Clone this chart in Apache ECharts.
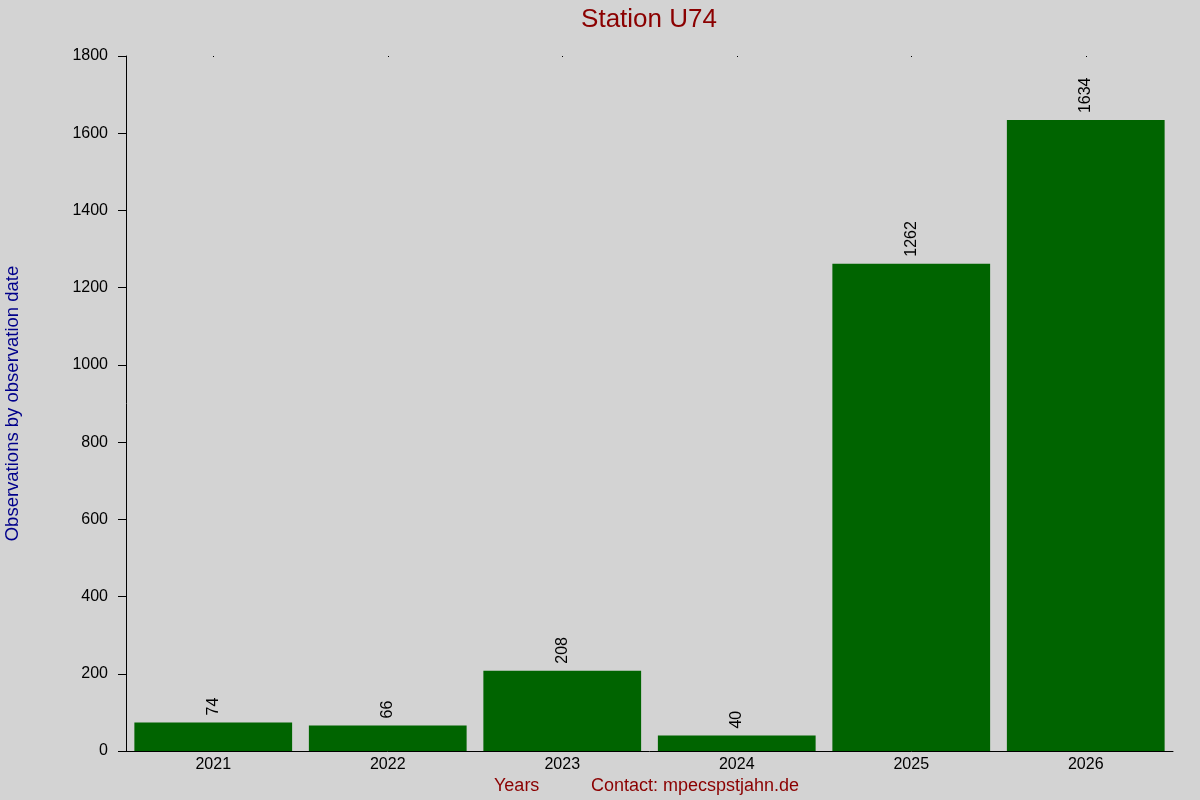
<!DOCTYPE html>
<html>
<head>
<meta charset="utf-8">
<script src="https://cdn.jsdelivr.net/npm/echarts@6/dist/echarts.min.js"></script>
<style>
html,body{margin:0;padding:0;background:#d3d3d3;}
#c{width:1200px;height:800px;}
</style>
</head>
<body>
<div id="c"></div>
<script>
const categories = ['2021','2022','2023','2024','2025','2026'];
const observations = [74, 66, 208, 40, 1262, 1634];
const yTicks = { min: 0, max: 1800, interval: 200 };

const font = 'Liberation Sans, Arial, sans-serif';
const chart = echarts.init(document.getElementById('c'));
chart.setOption({
  backgroundColor: '#d3d3d3',
  animation: false,
  title: {
    text: 'Station U74',
    left: 648,
    textAlign: 'center',
    top: 2,
    textStyle: { color: '#8b0000', fontSize: 26, fontWeight: 'normal', fontFamily: font }
  },
  grid: { left: 126, right: 27, top: 56, bottom: 49, containLabel: false, outerBoundsMode: 'none' },
  xAxis: [{
    type: 'category',
    data: categories,
    axisLine: { show: true, lineStyle: { color: '#000', width: 1 } },
    axisTick: { show: false },
    axisLabel: { color: '#000', fontSize: 16, fontFamily: font, margin: 6 },
    splitLine: { show: false }
  }, {
    type: 'category',
    data: categories,
    position: 'top',
    axisLine: { show: false },
    axisTick: { show: true, length: 1, inside: true, alignWithLabel: true, lineStyle: { color: '#000' } },
    axisLabel: { show: false }
  }],
  yAxis: {
    type: 'value',
    min: yTicks.min, max: yTicks.max, interval: yTicks.interval,
    axisLine: { show: true, lineStyle: { color: '#000', width: 1 } },
    axisTick: { show: true, length: 8, lineStyle: { color: '#000' } },
    axisLabel: { color: '#000', fontSize: 16, fontFamily: font, margin: 18, formatter: v => String(v) },
    splitLine: { show: false },
    name: 'Observations by observation date',
    nameLocation: 'middle',
    nameGap: 104,
    nameTextStyle: { color: '#00008b', fontSize: 18.5, fontFamily: font }
  },
  series: [{
    type: 'bar',
    data: observations,
    barCategoryGap: '9.6%',
    itemStyle: { color: '#006400' },
    label: {
      show: true,
      position: 'top',
      rotate: 90,
      align: 'left',
      verticalAlign: 'middle',
      distance: 7,
      color: '#000',
      fontSize: 16,
      fontFamily: font
    }
  }],
  graphic: [{
    type: 'text',
    left: 580,
    top: 2,
    silent: true,
    invisible: true,
    style: { text: '' }
  }, {
    type: 'text',
    left: 494,
    top: 777,
    style: { text: 'Years', fill: '#8b0000', font: '18px ' + font }
  }, {
    type: 'text',
    left: 591,
    top: 777,
    style: { text: 'Contact: mpecspstjahn.de', fill: '#8b0000', font: '18px ' + font }
  }]
});
chart.setOption({ title: { left: 644 } });
</script>
</body>
</html>
